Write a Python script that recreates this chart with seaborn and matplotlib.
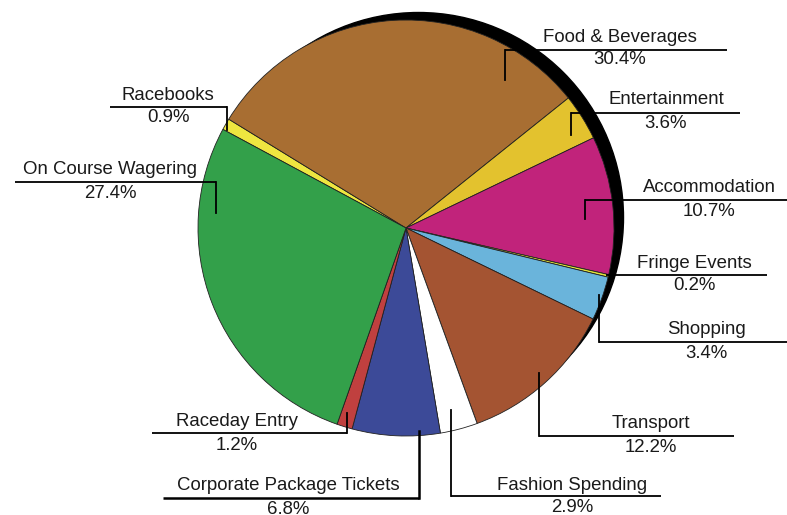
import matplotlib
matplotlib.use("Agg")
import matplotlib.pyplot as plt
from matplotlib.patches import Circle
import seaborn as sns

# data, clockwise from Racebooks
categories = ["Racebooks", "Food & Beverages", "Entertainment", "Accommodation",
              "Fringe Events", "Shopping", "Transport", "Fashion Spending",
              "Corporate Package Tickets", "Raceday Entry", "On Course Wagering"]
shares = [0.9, 30.4, 3.6, 10.7, 0.2, 3.4, 12.2, 2.9, 6.8, 1.2, 27.4]
pct_labels = ["0.9%", "30.4%", "3.6%", "10.7%", "0.2%", "3.4%", "12.2%",
              "2.9%", "6.8%", "1.2%", "27.4%"]
colors = ["#EEE640", "#A86E32", "#E3C22E", "#C1237B", "#E2E23C", "#6AB4DB",
          "#A45432", "#FFFFFF", "#3C4A98", "#C0403F", "#33A04A"]

# label layout in pixels (y down):
# line x0, line x1, line y, leader x, leader tip y, text x, name y, pct y
layout = {
    "Racebooks": (110, 227, 107, 227, 130, 168, 95, 118),
    "Food & Beverages": (505, 727, 50, 505, 80, 620, 37, 60),
    "Entertainment": (571, 740, 113, 571, 135, 666, 100, 124),
    "Accommodation": (585, 787, 200, 585, 219, 709, 187, 212),
    "Fringe Events": (606, 767, 275, 606, 275, 694, 263, 286),
    "Shopping": (599, 787, 342, 599, 295, 706, 329, 353),
    "Transport": (539, 734, 436, 539, 373, 651, 424, 447),
    "Fashion Spending": (451, 661, 496, 451, 410, 572, 485, 508),
    "Corporate Package Tickets": (163, 419, 498, 419, 431, 288, 486, 510),
    "Raceday Entry": (152, 347, 433, 347, 413, 237, 422, 445),
    "On Course Wagering": (15, 216, 182, 216, 213, 110, 169, 193),
}

W, H = 787, 515
cx, cy, r = 406, 228, 208

sns.set_theme(style="white")
plt.rcParams["font.family"] = ["Liberation Sans", "DejaVu Sans"]

fig = plt.figure(figsize=(W / 100, H / 100), dpi=100)
ax = fig.add_axes([0, 0, 1, 1])

# black shadow behind the pie, offset up-right
ax.add_patch(Circle((cx + 12.5, H - cy + 10.5), r - 3, color="black", zorder=0))

ax.pie(shares, colors=sns.color_palette(colors), startangle=151.7,
       counterclock=False, center=(cx, H - cy), radius=r,
       wedgeprops=dict(edgecolor="#222222", linewidth=0.6))

for name, pct in zip(categories, pct_labels):
    x0, x1, ly, vx, tip, tx, ny, py = layout[name]
    lw = 1.8 if name == "Corporate Package Tickets" else 1.3
    # horizontal line under the name
    ax.plot([x0, x1], [H - ly, H - ly], color="black", lw=lw, zorder=5,
            solid_capstyle="butt")
    # leader going into the wedge
    if tip != ly:
        ax.plot([vx, vx], [H - ly, H - tip], color="black", lw=lw, zorder=5,
                solid_capstyle="projecting")
    ax.text(tx, H - ny, name, ha="center", va="center", fontsize=13.4,
            color="#1a1a1a", zorder=6)
    ax.text(tx, H - py, pct, ha="center", va="center", fontsize=13.4,
            color="#1a1a1a", zorder=6)

ax.set_xlim(0, W)
ax.set_ylim(0, H)
ax.set_aspect("equal")
ax.axis("off")

fig.savefig("out.png", dpi=100)
